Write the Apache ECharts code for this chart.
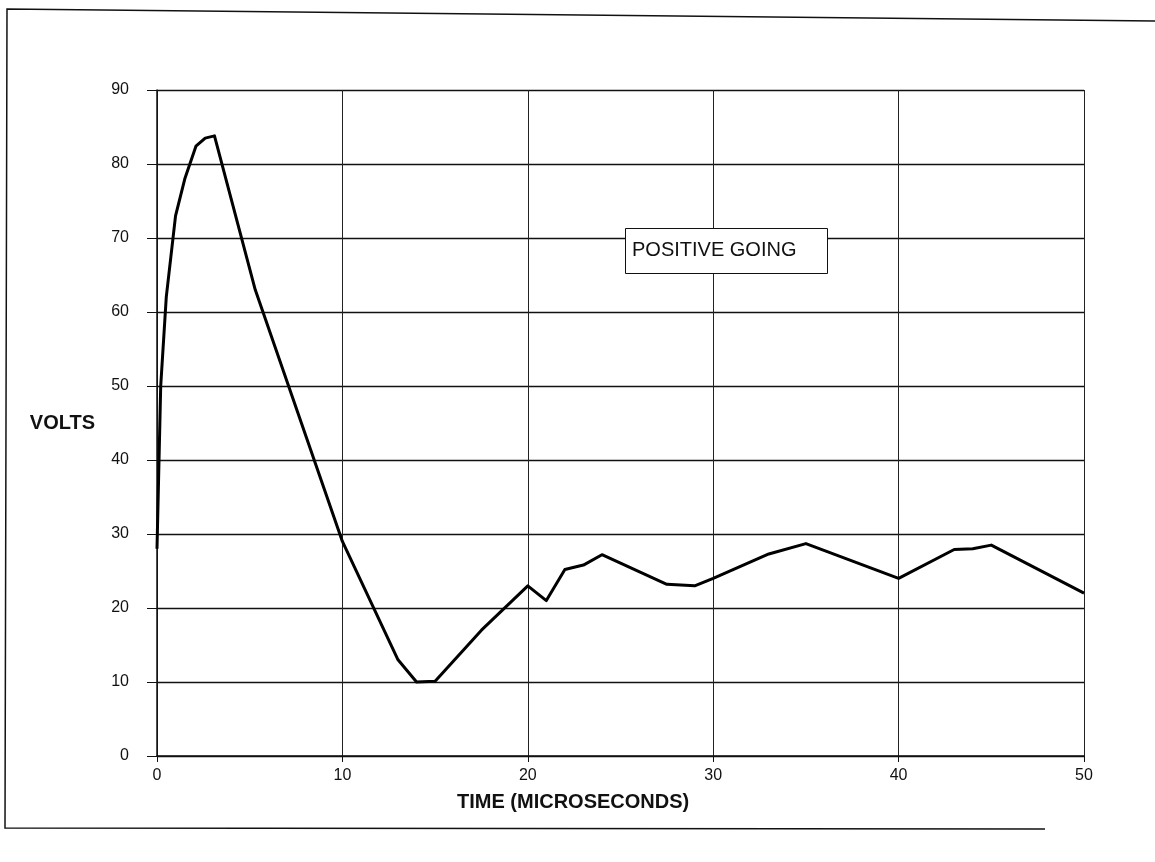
<!DOCTYPE html>
<html>
<head>
<meta charset="utf-8">
<script src="https://cdn.jsdelivr.net/npm/echarts@6/dist/echarts.min.js"></script>
<style>
html,body{margin:0;padding:0;background:#fff;}
#c{width:1155px;height:862px;}
</style>
</head>
<body>
<div id="c"></div>
<script>
// Data
const timeUs = [0, 0.2, 0.5, 1.0, 1.5, 2.1, 2.6, 3.1, 5.3, 10, 13, 14, 15, 17.5, 20, 21, 22, 23, 24, 27.5, 29, 30, 33, 35, 40, 43, 44, 45, 50];
const volts  = [28, 50, 62, 73, 78, 82.4, 83.5, 83.8, 63, 29, 13, 10, 10.1, 17, 23, 21, 25.2, 25.8, 27.2, 23.2, 23, 24, 27.3, 28.7, 24, 27.9, 28, 28.5, 22];
const xTicks = [0, 10, 20, 30, 40, 50];
const yTicks = [0, 10, 20, 30, 40, 50, 60, 70, 80, 90];
const yTitle = 'VOLTS';
const xTitle = 'TIME (MICROSECONDS)';
const noteText = 'POSITIVE GOING';

const chart = echarts.init(document.getElementById('c'), null, {renderer: 'canvas'});
const font = 'Liberation Sans, Arial, sans-serif';
const option = {
  animation: false,
  backgroundColor: '#ffffff',
  grid: {left: 157, right: 71, top: 90, bottom: 106, containLabel: false},
  xAxis: {
    type: 'value',
    min: xTicks[0], max: xTicks[xTicks.length - 1], interval: 10,
    axisLine: {show: true, onZero: false, lineStyle: {color: '#111', width: 1.5}},
    axisTick: {show: true, inside: false, length: 6, lineStyle: {color: '#111', width: 1}},
    axisLabel: {color: '#111', fontSize: 16, fontFamily: font, margin: 12},
    splitLine: {show: true, lineStyle: {color: '#222', width: 1}}
  },
  yAxis: {
    type: 'value',
    min: yTicks[0], max: yTicks[yTicks.length - 1], interval: 10,
    name: yTitle,
    nameLocation: 'middle',
    nameRotate: 0,
    nameGap: 62,
    nameTextStyle: {color: '#111', fontSize: 20, fontWeight: 'bold', fontFamily: font, align: 'right', verticalAlign: 'middle'},
    axisLine: {show: true, lineStyle: {color: '#111', width: 1.5}},
    axisTick: {show: true, inside: false, length: 10, lineStyle: {color: '#111', width: 1}},
    axisLabel: {color: '#111', fontSize: 16, fontFamily: font, margin: 28},
    splitLine: {show: true, lineStyle: {color: '#111', width: 1.3}}
  },
  series: [{
    type: 'line',
    data: timeUs.map((t, i) => [t, volts[i]]),
    showSymbol: false,
    symbol: 'none',
    smooth: false,
    lineStyle: {color: '#000', width: 3, join: 'round'},
    z: 5
  }],
  graphic: [
    // outer page border (scan frame)
    {type: 'polyline', shape: {points: [[1155, 21], [7, 9], [5, 828], [1045, 829]]},
     style: {stroke: '#111', lineWidth: 1.5, fill: null}, z: 1},
    // x axis title
    {type: 'text', left: 457, top: 792,
     style: {text: xTitle, fontSize: 20, fontWeight: 'bold', fontFamily: font, fill: '#111'}, z: 10},
    // annotation box
    {type: 'rect', shape: {x: 625.5, y: 228.5, width: 202, height: 45},
     style: {fill: '#ffffff', stroke: '#111', lineWidth: 1}, z: 20},
    {type: 'text', left: 632, top: 240,
     style: {text: noteText, fontSize: 20, fontFamily: font, fill: '#111'}, z: 21}
  ]
};
chart.setOption(option);
</script>
</body>
</html>
